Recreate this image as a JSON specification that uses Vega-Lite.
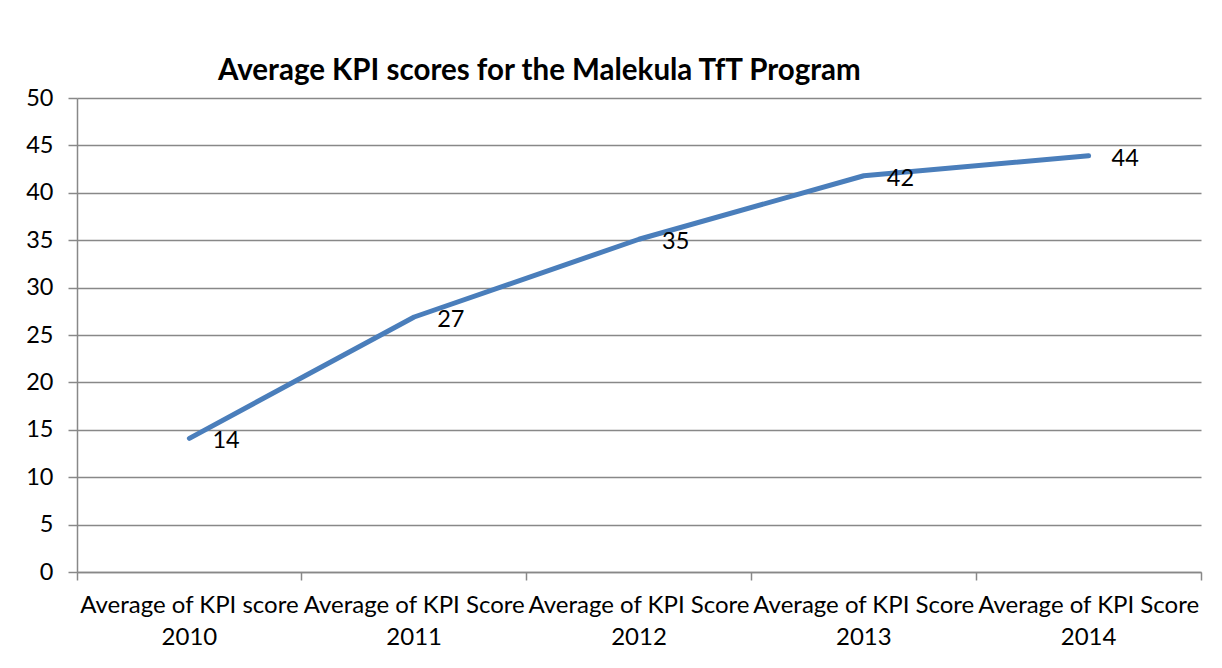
{
  "$schema": "https://vega.github.io/schema/vega-lite/v6.json",
  "width": 1124,
  "height": 474,
  "autosize": {"type": "none"},
  "padding": {"left": 77, "top": 98, "right": 21, "bottom": 96},
  "background": "white",
  "config": {
    "view": {"stroke": null},
    "font": "Lato"
  },
  "title": {
    "text": "Average KPI scores for the Malekula TfT Program",
    "font": "Lato",
    "fontSize": 29.5,
    "fontWeight": "bold",
    "color": "#000000",
    "anchor": "start",
    "frame": "group",
    "dx": 141,
    "offset": 0
  },
  "data": {
    "values": [
      {"cat": "Average of KPI score|2010", "score": 14.1},
      {"cat": "Average of KPI Score|2011", "score": 26.9},
      {"cat": "Average of KPI Score|2012", "score": 35.1},
      {"cat": "Average of KPI Score|2013", "score": 41.8},
      {"cat": "Average of KPI Score|2014", "score": 43.9}
    ]
  },
  "encoding": {
    "x": {
      "field": "cat",
      "type": "nominal",
      "sort": null,
      "bandPosition": 0.5,
      "scale": {"type": "band", "paddingInner": 0, "paddingOuter": 0},
      "axis": {
        "title": null,
        "labelAngle": 0,
        "labelExpr": "split(datum.label, '|')",
        "labelFont": "Lato",
        "labelFontSize": 24,
        "labelColor": "#000000",
        "labelLineHeight": 32,
        "labelPadding": 13,
        "labelLimit": 0,
        "labelOverlap": false,
        "bandPosition": 1,
        "tickExtra": true,
        "tickSize": 8,
        "tickColor": "#888888",
        "tickWidth": 1.5,
        "domainColor": "#888888",
        "domainWidth": 1.5,
        "grid": false
      }
    },
    "y": {
      "field": "score",
      "type": "quantitative",
      "scale": {"domain": [0, 50], "nice": false},
      "axis": {
        "title": null,
        "values": [0, 5, 10, 15, 20, 25, 30, 35, 40, 45, 50],
        "labelFont": "Lato",
        "labelFontSize": 23.5,
        "labelColor": "#000000",
        "labelPadding": 15,
        "tickSize": 9,
        "tickColor": "#888888",
        "tickWidth": 1.5,
        "domainColor": "#888888",
        "domainWidth": 1.5,
        "grid": true,
        "gridColor": "#888888",
        "gridWidth": 1.5
      }
    }
  },
  "layer": [
    {
      "mark": {"type": "line", "color": "#4A7EBB", "strokeWidth": 5, "strokeCap": "round", "strokeJoin": "round"}
    },
    {
      "mark": {"type": "text", "align": "left", "baseline": "middle", "dx": 23, "dy": 3, "fontSize": 23.5, "font": "Lato", "color": "#000000"},
      "encoding": {"text": {"field": "score", "type": "quantitative", "format": ".0f"}}
    }
  ]
}
